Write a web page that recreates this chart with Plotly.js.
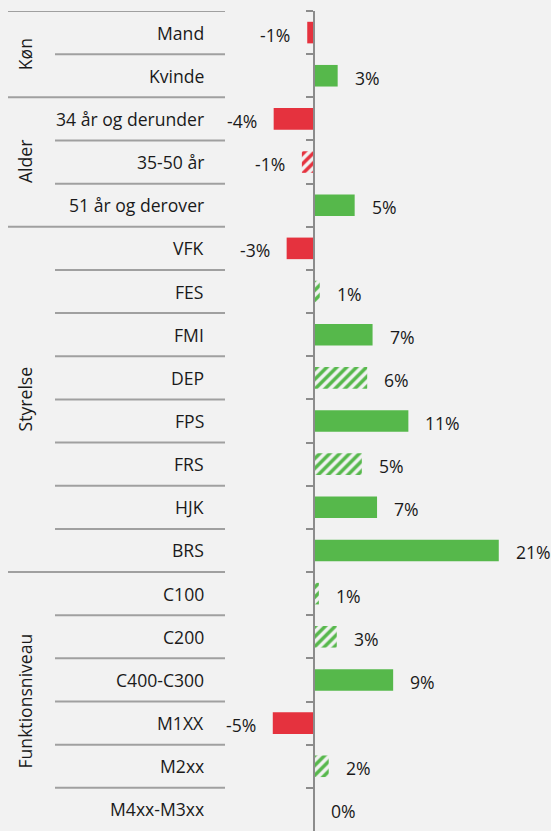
<!DOCTYPE html>
<html>
<head>
<meta charset="utf-8">
<script src="https://cdn.plot.ly/plotly-3.0.1.min.js"></script>
<style>
  html, body { margin: 0; padding: 0; background: #f2f2f2; }
  #chart { width: 551px; height: 831px; }
</style>
</head>
<body>
<div id="chart"></div>
<script>
// ---- data ----
const groupNames = ['Køn', 'Alder', 'Styrelse', 'Funktionsniveau'];
const groupSizes = [2, 3, 8, 6];
const categories = ['Mand', 'Kvinde', '34 år og derunder', '35-50 år', '51 år og derover',
  'VFK', 'FES', 'FMI', 'DEP', 'FPS', 'FRS', 'HJK', 'BRS',
  'C100', 'C200', 'C400-C300', 'M1XX', 'M2xx', 'M4xx-M3xx'];
const values = [-0.7, 2.7, -4.45, -1.3, 4.6,
  -3.0, 0.7, 6.6, 6.0, 10.6, 5.4, 7.1, 20.7,
  0.6, 2.6, 8.9, -4.55, 1.7, 0];
const valueLabels = ['-1%', '3%', '-4%', '-1%', '5%',
  '-3%', '1%', '7%', '6%', '11%', '5%', '7%', '21%',
  '1%', '3%', '9%', '-5%', '2%', '0%'];
const hatched = [0, 0, 0, 1, 0,
  0, 1, 0, 1, 0, 1, 0, 0,
  1, 1, 0, 0, 1, 0];

// ---- style ----
const RED = '#e5323e', GREEN = '#56b84b';
const TEXT = '#1a1a1a', LINE = '#a0a0a0', AXIS = '#8c8c8c';
const FONT = 'Open Sans, Noto Sans, sans-serif';
const FS = 17.6;
const W = 551, H = 831;
const zeroPx = 313.5;      // pixel position of zero
const pxPerUnit = 8.95;
const xRange = [-zeroPx / pxPerUnit, (W - zeroPx) / pxPerUnit];

const colors = values.map(v => v < 0 ? RED : GREEN);

const trace = {
  type: 'bar',
  orientation: 'h',
  x: values,
  y: categories,
  width: 0.5,
  marker: {
    color: colors,
    line: { width: 0 },
    pattern: {
      shape: hatched.map(h => h ? '/' : ''),
      fgcolor: colors,
      bgcolor: hatched.map((h, i) => h ? '#ffffff' : colors[i]),
      size: 7,
      solidity: 0.5,
      fillmode: 'replace'
    }
  },
  hoverinfo: 'skip'
};

const annotations = [];
// value labels
values.forEach((v, i) => {
  annotations.push({
    x: v, y: categories[i], xref: 'x', yref: 'y',
    text: valueLabels[i], showarrow: false,
    xanchor: v < 0 ? 'right' : 'left',
    xshift: v < 0 ? -15 : 15,
    yshift: -2,
    font: { family: FONT, size: FS, color: TEXT }
  });
});
// category labels
categories.forEach((c, i) => {
  annotations.push({
    x: 206 / W, y: c, xref: 'paper', yref: 'y',
    text: c, showarrow: false, xanchor: 'right',
    font: { family: FONT, size: FS, color: TEXT }
  });
});
// group labels + separator lines
const shapes = [];
let start = 0;
groupNames.forEach((g, gi) => {
  const n = groupSizes[gi];
  annotations.push({
    x: 25 / W, y: start + (n - 1) / 2, xref: 'paper', yref: 'y',
    text: g, showarrow: false, textangle: -90,
    xanchor: 'center', yanchor: 'middle',
    font: { family: FONT, size: FS, color: TEXT }
  });
  shapes.push({
    type: 'line', xref: 'paper', yref: 'y',
    x0: 8 / W, x1: 225 / W, y0: start - 0.5, y1: start - 0.5,
    line: { color: LINE, width: 2 }
  });
  for (let k = 1; k < n; k++) {
    shapes.push({
      type: 'line', xref: 'paper', yref: 'y',
      x0: 55 / W, x1: 225 / W, y0: start + k - 0.5, y1: start + k - 0.5,
      line: { color: LINE, width: 2 }
    });
  }
  start += n;
});

const layout = {
  width: W, height: H,
  margin: { l: 0, r: 0, t: 11, b: 0, pad: 0 },
  paper_bgcolor: '#f2f2f2',
  plot_bgcolor: '#f2f2f2',
  showlegend: false,
  xaxis: {
    range: xRange, visible: false, fixedrange: true
  },
  yaxis: {
    type: 'category',
    categoryorder: 'array',
    categoryarray: categories,
    range: [categories.length - 0.5, -0.5],
    anchor: 'free',
    position: zeroPx / W,
    showline: true, linecolor: AXIS, linewidth: 2,
    ticks: 'outside', tickson: 'boundaries', ticklen: 7,
    tickcolor: AXIS, tickwidth: 2,
    showticklabels: false, showgrid: false, zeroline: false,
    fixedrange: true
  },
  annotations: annotations,
  shapes: shapes,
  bargap: 0.5
};

Plotly.newPlot('chart', [trace], layout, { staticPlot: true, displayModeBar: false });
</script>
</body>
</html>
